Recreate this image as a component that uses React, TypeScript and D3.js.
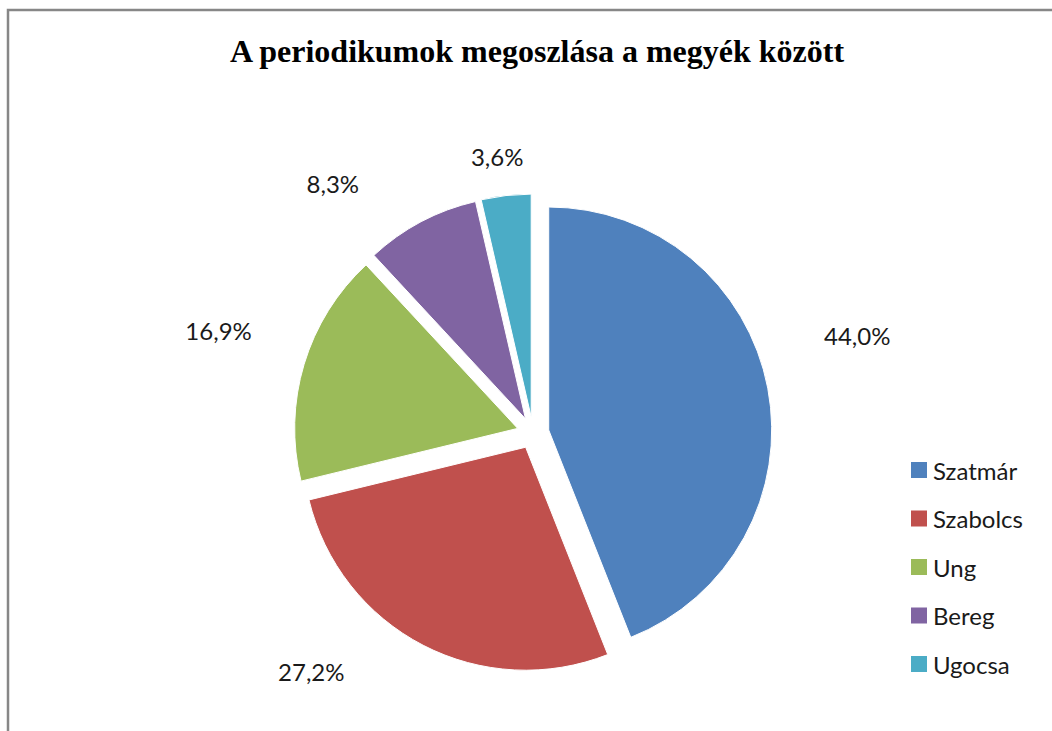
import { useEffect, useRef } from 'react';
import * as d3 from 'd3';

// Chart data
const categories = ['Szatmár', 'Szabolcs', 'Ung', 'Bereg', 'Ugocsa'];
const shares = [44.0, 27.2, 16.9, 8.3, 3.6];
const colors = ['#4F81BD', '#C0504D', '#9BBB59', '#8064A2', '#4BACC6'];
const title = 'A periodikumok megoszlása a megyék között';

// label placement tweaks (degrees added to slice mid angle, extra gap in px)
const labelAngleNudge = [-6, 15.5, 1.3, -10.8, -0.9];
const labelGapNudge = [8, 0, 0, 0, -30];

export default function App() {
  const ref = useRef<SVGSVGElement | null>(null);

  useEffect(() => {
    const width = 1052;
    const height = 731;
    const svg = d3.select(ref.current);
    svg.selectAll('*').remove();

    svg.attr('width', width).attr('height', height);

    svg.append('rect')
      .attr('width', width)
      .attr('height', height)
      .attr('fill', '#fff');

    // chart area border (runs off the right and bottom edges)
    svg.append('rect')
      .attr('x', 8)
      .attr('y', 10)
      .attr('width', width + 20)
      .attr('height', height + 20)
      .attr('fill', 'none')
      .attr('stroke', '#878787')
      .attr('stroke-width', 2.5);

    svg.append('text')
      .attr('x', 537)
      .attr('y', 62)
      .attr('text-anchor', 'middle')
      .attr('font-family', '"Liberation Serif", "Times New Roman", serif')
      .attr('font-weight', 'bold')
      .attr('font-size', 32)
      .attr('fill', '#000')
      .text(title);

    const cx = 533;
    const cy = 433;
    const r = 223;
    const explode = 16;

    const pie = d3.pie<number>().sort(null).value(d => d);
    const arcs = pie(shares);
    const arc = d3.arc<d3.PieArcDatum<number>>().innerRadius(0).outerRadius(r);

    const g = svg.append('g').attr('transform', `translate(${cx},${cy})`);

    g.selectAll('path')
      .data(arcs)
      .enter().append('path')
      .attr('d', arc)
      .attr('fill', (d, i) => colors[i])
      .attr('stroke', '#fff')
      .attr('stroke-width', 1)
      .attr('transform', d => {
        const mid = (d.startAngle + d.endAngle) / 2;
        return `translate(${explode * Math.sin(mid)},${-explode * Math.cos(mid)})`;
      });

    // data labels outside each slice
    const fmt = (v: number) => v.toFixed(1).replace('.', ',') + '%';
    const labelFont = 'Lato, "Open Sans", sans-serif';
    const labels = g.selectAll('text.lbl')
      .data(arcs)
      .enter().append('text')
      .attr('class', 'lbl')
      .attr('font-family', labelFont)
      .attr('font-size', 24)
      .attr('fill', '#1a1a1a')
      .attr('text-anchor', 'middle')
      .attr('dominant-baseline', 'central')
      .text(d => fmt(d.data));

    labels.each(function (d, i) {
      const el = this as SVGTextElement;
      const bb = el.getBBox();
      const a = (d.startAngle + d.endAngle) / 2 + (labelAngleNudge[i] * Math.PI) / 180;
      const sx = Math.sin(a);
      const sy = -Math.cos(a);
      const halfW = bb.width / 2;
      const halfH = 10;
      const rho = r + explode + 57 + labelGapNudge[i] + halfW * Math.abs(sx) + halfH * Math.abs(sy);
      d3.select(el).attr('x', rho * sx).attr('y', rho * sy);
    });

    // legend
    const ly = d3.scalePoint<string>()
      .domain(categories)
      .range([470, 664]);

    const legend = svg.append('g')
      .selectAll('g')
      .data(categories)
      .enter().append('g')
      .attr('transform', d => `translate(911,${ly(d)})`);

    legend.append('rect')
      .attr('x', 0)
      .attr('y', -8)
      .attr('width', 16)
      .attr('height', 16)
      .attr('fill', (d, i) => colors[i]);

    legend.append('text')
      .attr('x', 22)
      .attr('y', 0)
      .attr('dominant-baseline', 'central')
      .attr('font-family', labelFont)
      .attr('font-size', 24)
      .attr('fill', '#1a1a1a')
      .text(d => d);
  }, []);

  return <svg ref={ref} style={{ position: 'absolute', left: 0, top: 0, display: 'block' }} />;
}
